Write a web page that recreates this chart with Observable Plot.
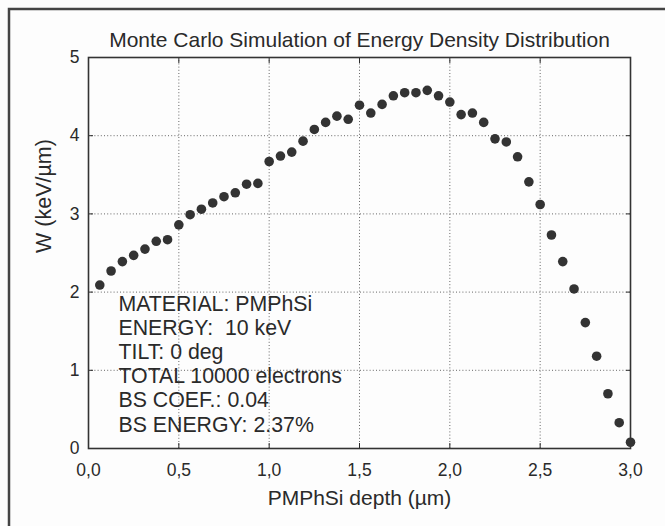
<!DOCTYPE html>
<html>
<head>
<meta charset="utf-8">
<script src="https://cdn.jsdelivr.net/npm/d3@7"></script>
<script src="https://cdn.jsdelivr.net/npm/@observablehq/plot@0.6"></script>
<style>
  html, body { margin: 0; padding: 0; background: #fdfdfd; }
  #wrap { position: relative; width: 665px; height: 526px; overflow: hidden; }
  svg { font-family: "Liberation Sans", Arial, sans-serif; display: block; }
</style>
</head>
<body>
<div id="wrap"><div id="chart"></div></div>
<script>
const title = "Monte Carlo Simulation of Energy Density Distribution";
const xLabel = "PMPhSi depth (\u00b5m)";
const yLabel = "W (keV/\u00b5m)";
const infoLines = [
  "MATERIAL: PMPhSi",
  "ENERGY:  10 keV",
  "TILT: 0 deg",
  "TOTAL 10000 electrons",
  "BS COEF.: 0.04",
  "BS ENERGY: 2.37%"
];
const xTicks = [0, 0.5, 1.0, 1.5, 2.0, 2.5, 3.0];
const yTicks = [0, 1, 2, 3, 4, 5];

const depth = [
  0.0625, 0.125, 0.1875, 0.25, 0.3125, 0.375, 0.4375, 0.5,
  0.5625, 0.625, 0.6875, 0.75, 0.8125, 0.875, 0.9375, 1.0,
  1.0625, 1.125, 1.1875, 1.25, 1.3125, 1.375, 1.4375, 1.5,
  1.5625, 1.625, 1.6875, 1.75, 1.8125, 1.875, 1.9375, 2.0,
  2.0625, 2.125, 2.1875, 2.25, 2.3125, 2.375, 2.4375, 2.5,
  2.5625, 2.625, 2.6875, 2.75, 2.8125, 2.875, 2.9375, 3.0
];
const W = [
  2.09, 2.27, 2.39, 2.47, 2.55, 2.65, 2.67, 2.86,
  2.99, 3.06, 3.14, 3.22, 3.27, 3.38, 3.39, 3.67,
  3.74, 3.79, 3.93, 4.08, 4.17, 4.25, 4.21, 4.39,
  4.29, 4.40, 4.51, 4.55, 4.55, 4.58, 4.51, 4.43,
  4.27, 4.29, 4.17, 3.96, 3.92, 3.73, 3.41, 3.12,
  2.73, 2.39, 2.04, 1.61, 1.18, 0.70, 0.33, 0.08
];

const data = depth.map((d, i) => ({depth: d, W: W[i]}));
const fmtX = d => d.toFixed(1).replace(".", ",");
const ink = "#2a2a2a";

const chart = Plot.plot({
  width: 665,
  height: 526,
  marginLeft: 88,
  marginRight: 35,
  marginTop: 57,
  marginBottom: 78,
  style: {background: "transparent", fontFamily: "'Liberation Sans', Arial, sans-serif", color: ink},
  x: {domain: [0, 3], ticks: xTicks},
  y: {domain: [0, 5], ticks: yTicks},
  marks: [
    Plot.gridX(xTicks.filter(t => t > 0 && t < 3), {stroke: "#666", strokeOpacity: 1, strokeDasharray: "1,2.2"}),
    Plot.gridY(yTicks.filter(t => t > 0 && t < 5), {stroke: "#666", strokeOpacity: 1, strokeDasharray: "1,2.2"}),
    Plot.axisX(xTicks, {anchor: "bottom", tickSize: -5, tickPadding: 20, tickFormat: fmtX, fontSize: 17.5, label: null, stroke: ink, fill: ink}),
    Plot.axisX(xTicks, {anchor: "top", tickSize: -5, tickFormat: () => "", label: null, stroke: ink}),
    Plot.axisY(yTicks, {anchor: "left", tickSize: -5, tickPadding: 14, tickFormat: d => String(d), fontSize: 17.5, label: null, stroke: ink, fill: ink}),
    Plot.axisY(yTicks, {anchor: "right", tickSize: -5, tickFormat: () => "", label: null, stroke: ink}),
    Plot.frame({stroke: "#333", strokeWidth: 1.6}),
    Plot.dot(data, {x: "depth", y: "W", r: 4.8, fill: "#333", stroke: null}),
    Plot.text([title], {frameAnchor: "top", lineAnchor: "bottom", dy: -11, fontSize: 21, fill: ink}),
    Plot.text([xLabel], {frameAnchor: "bottom", lineAnchor: "bottom", dy: 56, fontSize: 21, fill: ink}),
    Plot.text([yLabel], {frameAnchor: "left", rotate: -90, dx: -44, fontSize: 21.5, fill: ink}),
    Plot.text([infoLines.join("\n")], {frameAnchor: "bottom-left", textAnchor: "start", lineAnchor: "bottom", lineHeight: 1.13, dx: 30, dy: -17, fontSize: 21.3, fill: ink})
  ]
});
document.getElementById("chart").appendChild(chart);
// outer page frame (top and left edges), drawn on the SVG as decoration
d3.select(chart).append("rect")
  .attr("x", 9).attr("y", 9)
  .attr("width", 700).attr("height", 600)
  .attr("fill", "none")
  .attr("stroke", "#444")
  .attr("stroke-width", 2.5);
</script>
</body>
</html>
